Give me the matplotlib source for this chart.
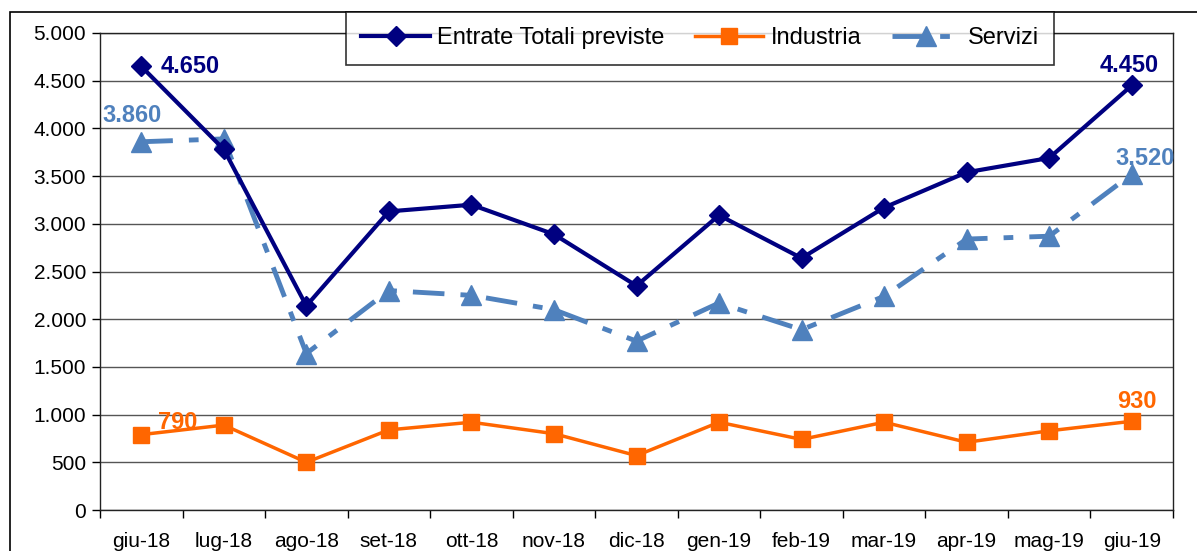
import matplotlib
matplotlib.use("Agg")
import matplotlib.pyplot as plt
from matplotlib.patches import Rectangle
from matplotlib.ticker import FuncFormatter, FixedLocator

plt.rcParams['font.family'] = ['Liberation Sans', 'DejaVu Sans']

months = ["giu-18", "lug-18", "ago-18", "set-18", "ott-18", "nov-18", "dic-18",
          "gen-19", "feb-19", "mar-19", "apr-19", "mag-19", "giu-19"]
totali = [4650, 3780, 2140, 3130, 3200, 2890, 2350, 3090, 2640, 3170, 3540, 3690, 4450]
industria = [790, 890, 500, 840, 920, 800, 570, 920, 740, 920, 710, 830, 930]
servizi = [3860, 3890, 1640, 2300, 2250, 2100, 1770, 2170, 1890, 2240, 2840, 2870, 3520]

navy = "#000080"
orange = "#FF6600"
blue = "#4F81BD"

fig = plt.figure(figsize=(11.97, 5.51), dpi=100)
ax = fig.add_axes([100/1197, 1 - 510/551, (1173-100)/1197, (510-33)/551])

x = list(range(len(months)))
ax.plot(x, totali, color=navy, lw=3, marker="D", ms=10.5, label="Entrate Totali previste", zorder=4)
ax.plot(x, industria, color=orange, lw=2.5, marker="s", ms=11, label="Industria", zorder=4)
ax.plot(x, servizi, color=blue, lw=3.5, marker="^", ms=14, dashes=(6.5, 3.3, 2, 3.3),
        label="Servizi", zorder=3)

ax.set_xlim(-0.5, len(months) - 0.5)
ax.set_ylim(0, 5000)
ax.set_yticks(range(0, 5001, 500))
ax.yaxis.set_major_formatter(FuncFormatter(lambda v, p: f"{int(v):,}".replace(",", ".")))
ax.set_xticks(x)
ax.set_xticklabels(months)
ax.xaxis.set_minor_locator(FixedLocator([i - 0.5 for i in range(len(months) + 1)]))
ax.tick_params(axis="x", which="major", length=0, labelsize=15, pad=16)
ax.tick_params(axis="x", which="minor", length=6, width=1, direction="out")
ax.tick_params(axis="y", length=6, width=1, direction="out", labelsize=15, pad=4)
ax.grid(axis="y", color="#555555", lw=1)
ax.set_axisbelow(True)
for s in ax.spines.values():
    s.set_color("#222222")
    s.set_linewidth(1)

def fmt(v):
    return f"{v:,}".replace(",", ".")

lbl = dict(fontsize=17, fontweight="bold", va="center", textcoords="offset points")
ax.annotate(fmt(totali[0]), (0, totali[0]), xytext=(14, 0), color=navy, ha="left", **lbl)
ax.annotate(fmt(servizi[0]), (0, servizi[0]), xytext=(-6.5, 19), color=blue, ha="center", **lbl)
ax.annotate(fmt(industria[0]), (0, industria[0]), xytext=(12, 9), color=orange, ha="left", **lbl)
ax.annotate(fmt(totali[-1]), (12, totali[-1]), xytext=(-1.5, 14.5), color=navy, ha="center", **lbl)
ax.annotate(fmt(servizi[-1]), (12, servizi[-1]), xytext=(9.5, 11.5), color=blue, ha="center", **lbl)
ax.annotate(fmt(industria[-1]), (12, industria[-1]), xytext=(3.5, 14), color=orange, ha="center", **lbl)

# outer chart-area border
fig.patches.append(Rectangle((10/1197, -0.1), 1.2, 1 - 12/551 + 0.1, transform=fig.transFigure,
                             fill=False, edgecolor="black", lw=1.2, zorder=0))

leg = fig.legend(loc="upper left", bbox_to_anchor=(346/1197, 1 - 12/551), ncol=3,
                 fontsize=17, frameon=True, fancybox=False, edgecolor="black",
                 handlelength=2.9, columnspacing=1.3, borderpad=0.65, handletextpad=0.3,
                 borderaxespad=0)
leg.get_frame().set_linewidth(1.2)

fig.savefig("out.png", dpi=100)
